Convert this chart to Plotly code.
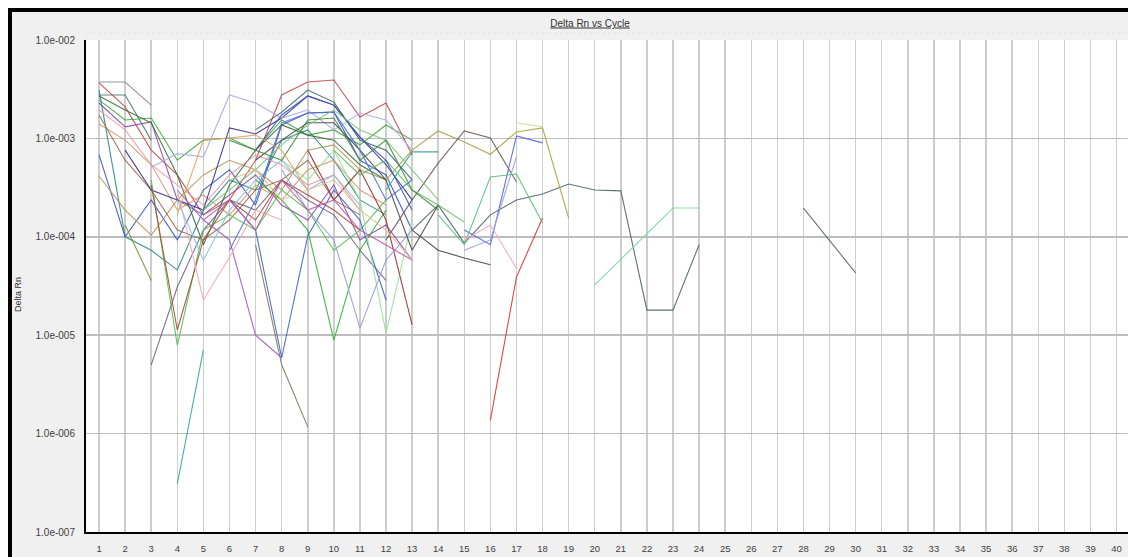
import plotly.graph_objects as go

# ---------------- data ----------------
x_ticks = list(range(1, 41))
y_tick_vals = [1e-7, 1e-6, 1e-5, 1e-4, 1e-3, 1e-2]
y_tick_text = ["1.0e-007", "1.0e-006", "1.0e-005", "1.0e-004", "1.0e-003", "1.0e-002"]

s01 = [3.74e-3, 3.74e-3, 2.18e-3]
s02 = [2.76e-3, 2.76e-3, 9.6e-4]
s03 = [3.66e-3, 2.09e-3, 7.6e-4, 4.25e-4, 1.67e-4, 2.37e-4, 6.0e-4, 2.76e-3, 3.74e-3, 3.92e-3, 1.65e-3, 2.29e-3, 6.8e-4]
s04 = [2.46e-3, 1.54e-3, 1.61e-3, 6.0e-4, 9.6e-4, 1.01e-3, 7.6e-4, 1.54e-3, 1.08e-3, 1.22e-3, 8.6e-4, 1.37e-3, 9.6e-4]
s05 = [2.29e-3, 1.31e-3, 1.47e-3, 2.37e-4, 1.67e-4, 2.66e-4, 4.25e-4, 2.1e-4, 1.48e-4, 3.36e-4, 9.3e-5, 1.32e-4, 5.8e-5]
s06 = [3.1e-3, 1.0e-4, 7.3e-5, 4.6e-5, 1.87e-4, 3.78e-4, 2.99e-4, 9.6e-4, 1.22e-3, 6.0e-4, 2.37e-4, 1.67e-4]
s07 = [6.8e-4, 1.0e-4, 2.37e-4, 9.3e-5, 2.99e-4, 4.8e-4, 2.1e-4, 1.37e-3, 1.81e-3, 1.85e-3, 6.0e-4, 4.25e-4, 1.17e-4]
s08 = [4.15e-4, 1.87e-4, 1.04e-4, 2.37e-4, 4.25e-4, 6.0e-4, 4.8e-4, 2.99e-4, 7.6e-4, 8.6e-4, 4.8e-4, 3.78e-4]
s09 = [1.4e-3, 9.6e-4, 5.4e-4, 1.87e-4, 2.66e-4, 1.67e-4, 3.36e-4, 2.37e-4, 4.8e-4, 6.0e-4, 2.99e-4, 2.1e-4]
s10 = [2.7e-3, 1.94e-3, 1.44e-3, 4.25e-4, 8.3e-5, 3.36e-4, 7.6e-4, 1.37e-3, 1.08e-3, 9.6e-4, 5.4e-4, 3.78e-4]
s11 = [1.73e-3, 6.0e-4, 2.99e-4, 1.17e-4, 9.3e-5, 1.48e-4, 2.99e-4, 3.78e-4, 6.0e-4, 2.37e-4, 1.67e-4]
s12 = [1.94e-3, 1.22e-3, 5.4e-4, 3.36e-4, 2.1e-4, 4.25e-4, 6.8e-4, 5.4e-4, 3.36e-4, 4.25e-4, 1.87e-4]
s13 = [7.6e-4, 2.99e-4, 2.37e-4, 1.87e-4, 1.28e-3, 1.11e-3, 1.61e-3, 2.7e-3, 2.18e-3, 1.03e-3, 5.4e-4, 2.37e-4]
s14 = [5.1e-4, 7.0e-4, 6.5e-4, 2.76e-3, 2.29e-3, 1.61e-3, 1.94e-3, 1.22e-3, 1.81e-3, 1.54e-3, 7.6e-4]
s15 = [5.0e-6, 3.09e-5, 1.17e-4, 2.37e-4, 1.87e-4, 3.78e-4, 2.37e-4, 1.67e-4, 7.3e-5, 3.6e-5]
s16 = [1.32e-4, 3.6e-5]
s17 = [3.1e-7, 7.1e-6]
s18 = [3.78e-4, 7.9e-6, 1.17e-4, 1.67e-4, 1.17e-4, 2.99e-4, 1.87e-4, 7.3e-5, 1.17e-4, 2.37e-4]
s19 = [3.36e-4, 1.13e-5, 9.3e-5, 2.37e-4, 1.48e-4, 3.78e-4, 2.66e-4, 1.87e-4, 1.17e-4]
s20 = [2.99e-4, 1.48e-4, 9.3e-5, 1.0e-5, 5.9e-6]
s21 = [2.37e-4, 1.17e-4, 5.9e-6, 1.02e-4, 2.99e-4, 1.48e-4, 2.28e-5]
s22 = [8.3e-5, 5.0e-6, 1.17e-6]
s23 = [3.78e-4, 2.37e-4, 1.17e-4, 8.9e-6, 7.3e-5, 1.87e-4]
s24 = [6.0e-4, 3.78e-4, 7.6e-4, 2.37e-4, 1.05e-5, 1.48e-4]
s25 = [7.6e-4, 2.37e-4, 4.8e-4, 1.48e-4, 1.27e-5]
s26 = [4.8e-4, 1.87e-4, 9.3e-5, 1.18e-5, 5.8e-5, 1.17e-4]
s27 = [2.99e-4, 2.28e-5, 6.2e-5, 1.87e-4, 1.48e-4]
s28 = [2.37e-4, 5.8e-5, 1.87e-4, 3.78e-4, 6.0e-4, 2.99e-4, 4.25e-4, 2.1e-4]
s29 = [6.0e-4, 9.6e-4, 1.44e-3, 1.44e-3, 7.6e-4, 3.78e-4, 7.3e-5, 2.1e-4]
s30 = [1.17e-4, 2.1e-4, 8.65e-5, 1.67e-4, 2.37e-4, 2.72e-4, 3.44e-4, 2.99e-4, 2.93e-4, 1.8e-5, 1.8e-5, 8.3e-5]
s31 = [3.24e-5, 5.9e-5, 1.09e-4, 1.96e-4, 1.96e-4]
s32 = [1.96e-4, 9.3e-5, 4.3e-5]
s33 = [3.78e-4, 7.6e-4, 1.19e-3, 9.2e-4, 6.9e-4, 1.16e-3, 1.28e-3, 1.55e-4]
s34 = [1.44e-3, 1.31e-3]
s35 = [9.3e-5, 2.37e-4, 5.6e-4, 1.19e-3, 1.01e-3, 3.6e-4]
s36 = [1.17e-4, 8.3e-5, 1.06e-3, 9.0e-4]
s37 = [7.3e-5, 9.3e-5, 6.5e-4]
s38 = [1.37e-6, 3.9e-5, 1.55e-4]
s39 = [2.99e-4, 7.3e-4, 7.3e-4]
s40 = [1.67e-4, 8.3e-5, 4.06e-4, 4.35e-4, 1.38e-4]
s41 = [9.3e-5, 1.32e-4, 4.8e-5]
s42 = [1.17e-4, 7.3e-5, 6.1e-5, 5.2e-5]
s43 = [7.6e-4, 4.25e-4, 6.0e-4, 2.99e-4, 2.1e-4, 1.41e-4]
s44 = [7.6e-4, 1.73e-3, 2.7e-3, 2.18e-3, 1.03e-3, 6.0e-4, 1.87e-4]
s45 = [1.22e-3, 1.85e-3, 3.1e-3, 2.34e-3, 9.6e-4, 7.6e-4, 3.78e-4]
s46 = [7.3e-5, 2.37e-4, 1.44e-3, 1.81e-3, 1.85e-3, 7.6e-4, 2.37e-4, 3.78e-4]
s47 = [1.87e-4, 2.99e-4, 4.8e-4, 8.6e-4, 1.37e-3, 1.94e-3, 1.22e-3, 9.6e-4, 4.8e-4, 2.37e-4]
s48 = [9.6e-4, 7.6e-4, 6.0e-4, 1.54e-3, 1.61e-3, 6.0e-4, 9.6e-4, 2.99e-4, 1.87e-4]
s49 = [1.48e-4, 2.37e-4, 1.17e-4, 3.78e-4, 1.87e-4, 2.37e-4, 1.17e-4, 8.3e-5, 5.8e-5]
s50 = [3.78e-4, 4.8e-4, 2.37e-4, 2.99e-4, 3.78e-4, 1.87e-4, 1.17e-4, 5.8e-5]
s51 = [1.67e-4, 9.6e-4, 1.01e-3, 1.08e-3, 7.6e-4, 2.99e-4]

series = [s01, s02, s03, s04, s05, s06, s07, s08, s09, s10,
          s11, s12, s13, s14, s15, s16, s17, s18, s19, s20,
          s21, s22, s23, s24, s25, s26, s27, s28, s29, s30,
          s31, s32, s33, s34, s35, s36, s37, s38, s39, s40,
          s41, s42, s43, s44, s45, s46, s47, s48, s49, s50, s51]

# first cycle of each series
start_cycle = [1, 1, 1, 1, 1, 1, 1, 1, 1, 1,
               1, 1, 2, 3, 3, 2, 4, 3, 3, 4,
               6, 7, 7, 8, 9, 8, 4, 4, 7, 13,
               20, 28, 12, 17, 12, 15, 15, 16, 12, 14,
               15, 13, 10, 7, 7, 6, 5, 6, 5, 6, 4]

# ---------------- style ----------------
colors = ["#8a8a8a", "#4f7575", "#c04848", "#3aa83a", "#8a48a8", "#2a8a8a", "#3a50c8", "#b09858", "#d89868", "#3a6a3a",
          "#986848", "#e898a8", "#303088", "#a8a8e8", "#706088", "#888838", "#38a0a8", "#50c050", "#a84838", "#a058b8",
          "#4060d0", "#807858", "#30b030", "#98e098", "#983030", "#9898e0", "#f0a8a8", "#88c0e0", "#484848", "#4a6464",
          "#78d898", "#586464", "#a8a040", "#d8d898", "#6a5a5a", "#5060e0", "#9898f0", "#e03030", "#30a0a0", "#50c078",
          "#f0a8c8", "#404050", "#60c060", "#4050b8", "#2f6060", "#5070c8", "#78c878", "#408840", "#c058a8", "#e0c098",
          "#e0a060"]

fig = go.Figure()
for vals, st, col in zip(series, start_cycle, colors):
    fig.add_trace(go.Scatter(
        x=list(range(st, st + len(vals))), y=vals, mode="lines",
        line=dict(color=col, width=1.1), opacity=0.9, showlegend=False, hoverinfo="skip"))

W, H = 1128, 557
L, R, T, B = 86, 0, 40, 25
pw, ph = W - L - R, H - T - B

def px(xp):
    return (xp - L) / pw

def py(yp):
    return (H - B - yp) / ph

font_family = "Liberation Sans, Arial, sans-serif"

fig.update_layout(
    width=W, height=H,
    margin=dict(l=L, r=R, t=T, b=B, pad=0, autoexpand=False),
    paper_bgcolor="#f0f0f0",
    plot_bgcolor="white",
    font=dict(family=font_family, size=10, color="#404040"),
    title=dict(text="<u>Delta Rn vs Cycle</u>", xref="container", yref="container",
               x=590 / W, y=1 - 23 / H, xanchor="center", yanchor="middle",
               font=dict(size=10, color="#303030", family=font_family)),
    xaxis=dict(range=[0.5, 40.44], tickmode="array", tickvals=x_ticks,
               ticktext=[str(v) for v in x_ticks],
               showgrid=True, gridcolor="#cdcdcd", gridwidth=1.5,
               showline=True, linecolor="#000000", linewidth=2, mirror=False,
               ticks="outside", ticklen=7, tickcolor="rgba(0,0,0,0)",
               tickfont=dict(size=9.5, color="#404040"), zeroline=False, fixedrange=True,
               automargin=False),
    yaxis=dict(type="log", range=[-7, -2], tickmode="array", tickvals=y_tick_vals,
               ticktext=y_tick_text,
               showgrid=True, gridcolor="#bdbdbd", gridwidth=1.5,
               showline=True, linecolor="#000000", linewidth=2, mirror=False,
               ticks="outside", ticklen=7, tickcolor="rgba(0,0,0,0)",
               tickfont=dict(size=10, color="#404040"), zeroline=False, fixedrange=True,
               automargin=False),
    annotations=[dict(text="Delta Rn", xref="paper", yref="paper", x=px(18), y=py(295),
                      textangle=-90, showarrow=False, xanchor="center", yanchor="middle",
                      font=dict(size=9, color="#303030"))],
    shapes=[
        # white outer margin outside the frame
        dict(type="rect", xref="paper", yref="paper", x0=px(0), x1=px(8), y0=py(H + 5), y1=py(0),
             fillcolor="white", line=dict(width=0), layer="above"),
        dict(type="rect", xref="paper", yref="paper", x0=px(0), x1=px(W + 5), y0=py(8), y1=py(0),
             fillcolor="white", line=dict(width=0), layer="above"),
        # black frame
        dict(type="rect", xref="paper", yref="paper", x0=px(8), x1=px(12), y0=py(H + 5), y1=py(8),
             fillcolor="black", line=dict(width=0), layer="above"),
        dict(type="rect", xref="paper", yref="paper", x0=px(8), x1=px(W + 5), y0=py(12), y1=py(8),
             fillcolor="black", line=dict(width=0), layer="above"),
        # faint separator above plot
        dict(type="line", xref="paper", yref="paper", x0=px(86), x1=px(W), y0=py(33), y1=py(33),
             line=dict(color="#e2e2e2", width=1, dash="dot"), layer="above"),
    ],
)

fig.write_html("out.html", config={"displayModeBar": False, "staticPlot": True},
               post_script="document.body.style.margin='0px';document.body.style.overflow='hidden';")
